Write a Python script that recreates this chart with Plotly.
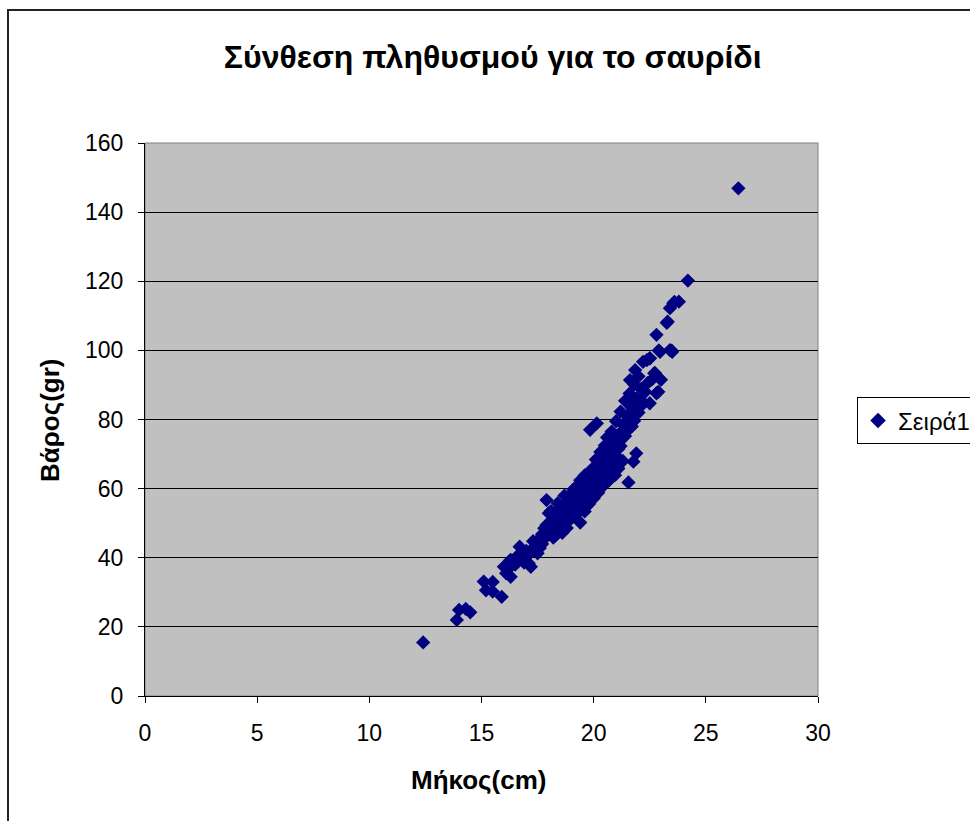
import plotly.graph_objects as go

# Length (cm) and weight (gr) of each fish in the sample
length_cm = [
    12.4,
    13.9, 14.0, 14.3, 14.5,
    15.1, 15.2, 15.5, 15.5, 15.9,
    16.0, 16.1, 16.3, 16.2, 16.5, 16.7, 16.6, 16.9, 17.1, 17.2, 17.3, 17.5,
    17.4, 17.6, 17.7, 17.8, 17.6, 17.9, 18.0, 18.1, 18.0, 18.2, 18.3, 18.4,
    18.5, 18.6, 18.5, 18.7, 18.8, 18.9, 18.8, 19.0, 19.0, 19.1, 19.2, 19.2,
    19.3, 19.4, 19.4, 19.5, 19.5, 19.6, 19.6, 19.7, 19.8, 19.8, 19.9, 19.9,
    20.0, 20.0, 20.1, 20.1, 20.2, 20.2, 20.3, 20.3, 20.4, 20.4, 20.5, 20.5,
    20.6, 20.6, 20.7, 20.7, 20.8, 20.8, 20.9, 20.95, 21.0, 21.0, 21.1, 21.1,
    21.2, 21.2, 21.3, 21.3, 21.4, 21.4, 21.5, 21.55, 21.6, 21.6, 21.7, 21.77,
    21.8, 21.8, 21.9, 21.9, 22.0, 22.0, 22.1, 22.2, 22.2, 22.4, 22.5, 22.5,
    22.7, 22.8, 22.8, 22.9, 23.0, 23.3, 23.4, 23.4, 23.5, 23.6, 23.8, 24.2,
    26.45, 19.84, 20.14,
    17.9, 18.1, 18.3, 18.4, 18.6, 18.7, 18.9, 19.0, 19.1, 19.3, 19.4, 19.6,
    19.7, 19.8, 20.0, 20.1, 20.2, 20.4, 20.5, 20.6, 20.8, 20.9, 21.0, 21.1,
    21.3, 21.4, 21.5, 21.7, 17.0, 17.3, 17.5, 17.8, 18.2, 18.5, 18.8, 19.2,
    19.5, 19.9, 20.3, 20.7, 21.2, 21.6, 21.9, 22.1, 22.3, 22.6, 21.85, 21.62,
    22.37, 22.74, 22.88, 22.96, 23.26, 23.55, 23.48, 22.51,
    16.3, 16.4, 16.8, 17.0, 17.7, 18.3, 18.9, 19.3, 19.7, 20.2, 20.6, 21.0,
]
weight_gr = [
    15.5,
    22.0, 24.9, 25.2, 24.2,
    33.1, 30.6, 33.0, 30.2, 28.7,
    37.4, 35.5, 39.4, 36.8, 38.0, 43.2, 40.5, 38.6, 38.4, 37.4, 42.2, 41.3,
    43.5, 44.5, 46.8, 48.5, 42.8, 56.7, 52.9, 50.0, 47.5, 45.8, 48.2, 51.5,
    54.3, 47.2, 49.8, 52.4, 56.0, 53.2, 48.6, 58.5, 51.4, 55.5, 60.2, 53.6,
    57.4, 50.2, 62.4, 55.2, 59.3, 63.8, 53.4, 57.8, 61.2, 55.6, 65.5, 59.4,
    62.5, 57.2, 68.4, 60.6, 64.6, 58.8, 70.6, 62.3, 66.7, 60.6, 72.5, 64.8,
    68.9, 74.8, 62.5, 71.2, 76.5, 66.6, 73.4, 63.9, 79.5, 69.5, 75.6, 65.8,
    82.3, 72.3, 78.5, 68.0, 85.4, 75.2, 81.0, 61.8, 87.5, 77.5, 83.4, 67.8,
    90.2, 79.6, 70.2, 86.0, 92.5, 82.0, 88.8, 96.7, 84.5, 90.5, 97.7, 84.7,
    93.4, 104.5, 87.6, 100.0, 91.5, 108.3, 100.1, 112.2, 99.6, 114.0, 114.1, 120.2,
    146.9, 77.0, 78.9,
    49.5, 53.5, 51.0, 55.8, 52.0, 58.0, 56.5, 54.8, 59.8, 61.0, 58.0, 56.2,
    61.5, 64.0, 65.0, 63.5, 67.5, 63.8, 68.0, 66.0, 70.0, 68.8, 73.0, 71.5,
    74.8, 79.0, 76.8, 78.0, 40.2, 44.8, 45.0, 45.5, 50.5, 51.6, 54.0, 57.0,
    60.8, 62.0, 66.4, 69.0, 76.0, 80.8, 83.2, 85.6, 88.0, 91.6, 94.3, 91.4,
    97.2, 93.4, 88.0, 99.6, 108.0, 113.6, 99.9, 97.7,
    34.5, 38.2, 41.6, 42.0, 44.0, 46.5, 50.8, 53.0, 55.0, 59.5, 62.0, 66.5,
]

series_name = "Σειρά1"
chart_title = "Σύνθεση πληθυσμού για το σαυρίδι"
x_title = "Μήκος(cm)"
y_title = "Βάρος(gr)"
x_ticks = [0, 5, 10, 15, 20, 25, 30]
y_ticks = [0, 20, 40, 60, 80, 100, 120, 140, 160]

FONT = "Arial, 'Liberation Sans', sans-serif"
NAVY = "#000080"

fig = go.Figure(
    go.Scatter(
        x=length_cm,
        y=weight_gr,
        mode="markers",
        name=series_name,
        marker=dict(symbol="diamond", size=11, color=NAVY,
                    line=dict(width=0)),
        showlegend=True,
    )
)

fig.update_layout(
    width=970,
    height=821,
    margin=dict(l=145, r=152, t=143, b=125, autoexpand=False),
    paper_bgcolor="white",
    plot_bgcolor="#C0C0C0",
    font=dict(family=FONT, size=23, color="black"),
    title=dict(
        text="<b>" + chart_title + "</b>",
        x=0.508, xanchor="center",
        y=1 - 57 / 821, yanchor="middle",
        font=dict(family=FONT, size=32, color="black"),
    ),
    legend=dict(
        x=1.058, xanchor="left",
        y=0.540, yanchor="top",
        bgcolor="white",
        bordercolor="black",
        borderwidth=1,
        font=dict(family=FONT, size=24, color="black"),
        itemsizing="constant",
        itemwidth=30,
    ),
    xaxis=dict(
        range=[0, 30],
        tickvals=x_ticks,
        ticks="outside",
        ticklen=6,
        tickcolor="black",
        showline=True,
        linecolor="black",
        linewidth=1,
        mirror=False,
        showgrid=False,
        zeroline=False,
        ticklabelstandoff=10,
        tickfont=dict(family=FONT, size=23),
    ),
    yaxis=dict(
        range=[0, 160],
        tickvals=y_ticks,
        ticks="outside",
        ticklen=6,
        tickcolor="black",
        showline=True,
        linecolor="black",
        linewidth=1,
        showgrid=True,
        gridcolor="black",
        gridwidth=1,
        zeroline=False,
        ticklabelstandoff=10,
        tickfont=dict(family=FONT, size=23),
    ),
    annotations=[
        dict(
            text="<b>" + x_title + "</b>",
            xref="paper", yref="paper",
            x=0.495, y=(696 - 780) / 553,
            xanchor="center", yanchor="middle",
            showarrow=False,
            font=dict(family=FONT, size=26, color="black"),
        ),
        dict(
            text="<b>" + y_title + "</b>",
            xref="paper", yref="paper",
            x=(50 - 145) / 673, y=0.499,
            xanchor="center", yanchor="middle",
            textangle=-90,
            showarrow=False,
            font=dict(family=FONT, size=26, color="black"),
        ),
    ],
    shapes=[
        # plot-area frame (grey on top and right)
        dict(type="rect", xref="paper", yref="paper",
             x0=0, x1=1, y0=0, y1=1,
             line=dict(color="#808080", width=1), layer="below"),
        # outer chart frame
        dict(type="rect", xref="paper", yref="paper",
             x0=(8 - 145) / 673, x1=(980 - 145) / 673,
             y0=(696 - 840) / 553, y1=(696 - 10) / 553,
             line=dict(color="#222222", width=2)),
    ],
)

fig.write_html("out.html")
